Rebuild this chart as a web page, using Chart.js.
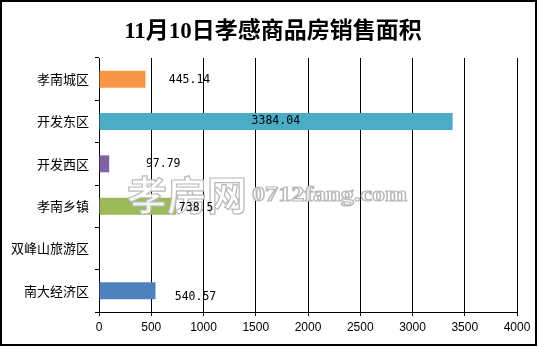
<!DOCTYPE html>
<html>
<head>
<meta charset="utf-8">
<script src="https://cdn.jsdelivr.net/npm/chart.js@4.4.1/dist/chart.umd.min.js"></script>
<style>
  html, body { margin: 0; padding: 0; background: #fff; }
  #wrap { width: 538px; height: 347px; position: relative; }
</style>
</head>
<body>
<div id="wrap"><canvas id="c" width="538" height="347"></canvas></div>
<script>
// 11月10日 孝感各区域商品房销售面积（平方米）
const districts = ['孝南城区', '开发东区', '开发西区', '孝南乡镇', '双峰山旅游区', '南大经济区'];
const areas = [445.14, 3384.04, 97.79, 738.5, null, 540.57];
const areaTicks = [0, 500, 1000, 1500, 2000, 2500, 3000, 3500, 4000];
const chartTitle = '11月10日孝感商品房销售面积';

// presentation only
const barColors = ['#F79646', '#4BACC6', '#8064A2', '#9BBB59', '#C0504D', '#4F81BD'];
// label offsets from the bar end (dx, dy); 'mid' = centred inside the bar
const labelNudges = [[44, 1], ['mid', 0], [54, 0], [20, 2], [0, 0], [40, 6]];

const frameAndTitle = {
  id: 'frameAndTitle',
  afterDraw(chart) {
    const ctx = chart.ctx;
    ctx.save();
    ctx.strokeStyle = '#000';
    ctx.lineWidth = 2;
    ctx.strokeRect(1, 1, 535, 344);
    ctx.fillStyle = '#000';
    ctx.font = 'bold 23px "Liberation Serif", "Noto Sans CJK SC", serif';
    ctx.textAlign = 'center';
    ctx.textBaseline = 'middle';
    ctx.fillText(chartTitle, 273, 32);
    ctx.restore();
  }
};

const watermarkAndLabels = {
  id: 'watermarkAndLabels',
  afterDatasetsDraw(chart) {
    const ctx = chart.ctx;
    ctx.save();
    // site watermark
    ctx.lineWidth = 1.2;
    ctx.strokeStyle = '#b8b8b8';
    ctx.fillStyle = 'rgba(255,255,255,0.88)';
    ctx.textBaseline = 'alphabetic';
    ctx.textAlign = 'left';
    ctx.font = 'bold 40px "Noto Sans CJK SC", sans-serif';
    const cn = '孝房网';
    let w = ctx.measureText(cn).width;
    ctx.save();
    ctx.translate(127, 210);
    ctx.scale(120 / w, 1);
    ctx.fillText(cn, 0, 0);
    ctx.strokeText(cn, 0, 0);
    ctx.restore();
    ctx.font = 'bold 20px "Liberation Serif", serif';
    const en = '0712fang.com';
    w = ctx.measureText(en).width;
    ctx.save();
    ctx.translate(252, 201);
    ctx.scale(155 / w, 1);
    ctx.fillText(en, 0, 0);
    ctx.strokeText(en, 0, 0);
    ctx.restore();

    // value labels
    const meta = chart.getDatasetMeta(0);
    const xs = chart.scales.x;
    ctx.fillStyle = '#000';
    ctx.font = '11.5px "DejaVu Sans Mono", monospace';
    ctx.textAlign = 'center';
    ctx.textBaseline = 'middle';
    meta.data.forEach((bar, i) => {
      const v = areas[i];
      if (v === null || v === undefined) return;
      const [dx, dy] = labelNudges[i];
      const x = dx === 'mid' ? (xs.getPixelForValue(0) + bar.x) / 2 : bar.x + dx;
      ctx.fillText(String(v), x, bar.y + dy);
    });
    ctx.restore();
  }
};

new Chart(document.getElementById('c'), {
  type: 'bar',
  data: {
    labels: districts,
    datasets: [{
      data: areas,
      backgroundColor: barColors,
      borderWidth: 0,
      categoryPercentage: 1,
      barPercentage: 0.4
    }]
  },
  options: {
    indexAxis: 'y',
    responsive: false,
    animation: false,
    devicePixelRatio: 1,
    layout: { padding: { left: 0, top: 58, right: 21, bottom: 0 } },
    plugins: {
      legend: { display: false },
      tooltip: { enabled: false },
      title: { display: false }
    },
    scales: {
      x: {
        min: 0,
        max: 4000,
        afterBuildTicks(scale) { scale.ticks = areaTicks.map(v => ({ value: v })); },
        afterFit(scale) { scale.height = 35; },
        grid: { color: '#000', lineWidth: 1, tickLength: 4, drawTicks: true },
        border: { color: '#000', width: 1 },
        ticks: {
          color: '#000',
          padding: 4,
          callback: (v) => String(v),
          font: { family: '"Liberation Sans", sans-serif', size: 12 }
        }
      },
      y: {
        afterFit(scale) { scale.width = 99; },
        grid: { drawOnChartArea: false, drawTicks: true, tickLength: 4, color: '#000', offset: true },
        border: { color: '#000', width: 1 },
        ticks: {
          color: '#000',
          padding: 6,
          font: { family: '"Noto Sans CJK SC", sans-serif', size: 13 }
        }
      }
    }
  },
  plugins: [frameAndTitle, watermarkAndLabels]
});
</script>
</body>
</html>
